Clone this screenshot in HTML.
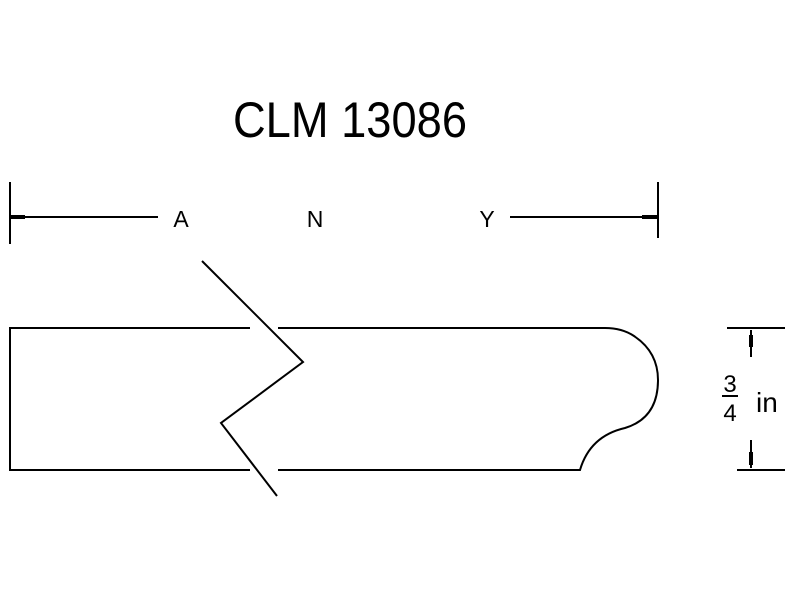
<!DOCTYPE html>
<html><head><style>body{margin:0;background:#fff}svg{display:block}</style></head><body>
<svg width="800" height="600" viewBox="0 0 800 600" xmlns="http://www.w3.org/2000/svg">
<g font-family="Liberation Sans, sans-serif" fill="#000">
<text x="233" y="137" font-size="50" textLength="234" lengthAdjust="spacingAndGlyphs">CLM 13086</text>
<text x="181" y="227" font-size="23" text-anchor="middle">A</text>
<text x="315" y="227" font-size="23" text-anchor="middle">N</text>
<text x="487" y="227" font-size="23" text-anchor="middle">Y</text>
<text x="730" y="392" font-size="24" text-anchor="middle">3</text>
<text x="730" y="421" font-size="24" text-anchor="middle">4</text>
<text x="756" y="412" font-size="28">in</text>
</g>
<g stroke="#000" stroke-width="2" fill="none">
<line x1="10" y1="182" x2="10" y2="244"/>
<line x1="658" y1="182" x2="658" y2="238"/>
<line x1="10" y1="217" x2="158" y2="217"/>
<line x1="510" y1="217" x2="657" y2="217"/>
<line x1="10" y1="217" x2="25" y2="217" stroke-width="4"/>
<line x1="642" y1="217" x2="657" y2="217" stroke-width="4"/>
<polyline points="250,328 10,328 10,470 250,470"/>
<path d="M278,328 L605,328 Q622,328 634,336 Q658,352 658,380 Q658,418 625,428 Q590,436 580,470 L278,470"/>
<polyline points="202,261 303,362 221,423 277,496"/>
<line x1="727" y1="328" x2="785" y2="328"/>
<line x1="737" y1="470" x2="785" y2="470"/>
<line x1="751" y1="330" x2="751" y2="357"/>
<line x1="751" y1="440" x2="751" y2="468"/>
<line x1="751" y1="335" x2="751" y2="347" stroke-width="4"/>
<line x1="751" y1="452" x2="751" y2="465" stroke-width="4"/>
<line x1="722" y1="396" x2="738" y2="396"/>
</g>
</svg>
</body></html>
